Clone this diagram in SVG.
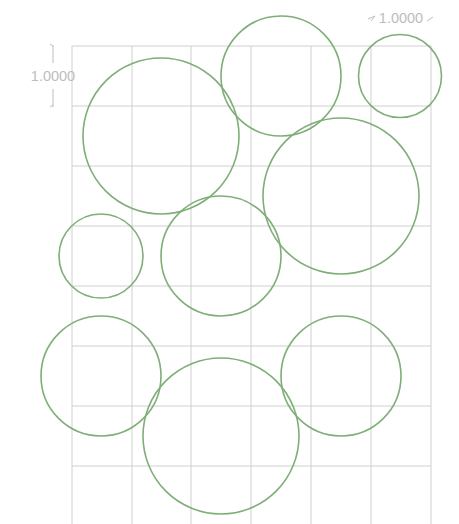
<svg xmlns="http://www.w3.org/2000/svg" width="459" height="524" viewBox="0 0 459 524">
<style>
.grid{stroke:#d0d0d0;stroke-width:1;fill:none}
.c{fill:none;stroke:#7fae78;stroke-width:1.6}
.dim{stroke:#bdbdbd;stroke-width:1;fill:none}
.t{font-family:"Liberation Sans",Arial,sans-serif;font-size:14.5px;fill:#bdbdbd}
</style>
<rect width="459" height="524" fill="#ffffff"/>
<g id="grid" class="grid">
<path d="M72 46V524M132 46V524M191 46V524M251 46V524M311 46V524M371 46V524M431 46V524"/>
<path d="M72 46H431M72 106H431M72 166H431M72 226H431M72 286H431M72 346H431M72 406H431M72 466H431"/>
</g>
<g id="dims">
<path class="dim" d="M53 45V63M53 89V107M50 44L53 46M50 107L53 105"/>
<text class="t" x="53" y="81" text-anchor="middle">1.0000</text>
<path class="dim" d="M368 19L375 16M375 16L371 21M427 21L433 17"/>
<text class="t" x="401" y="23" text-anchor="middle">1.0000</text>
</g>
<g id="c1"><circle class="c" cx="161" cy="136" r="78"/></g>
<g id="c2"><circle class="c" cx="281" cy="76" r="60"/></g>
<g id="c3"><circle class="c" cx="400" cy="76" r="41.5"/></g>
<g id="c4"><circle class="c" cx="341" cy="196" r="78"/></g>
<g id="c5"><circle class="c" cx="101" cy="256" r="42"/></g>
<g id="c6"><circle class="c" cx="221" cy="256" r="60"/></g>
<g id="c7"><circle class="c" cx="101" cy="376" r="60"/></g>
<g id="c8"><circle class="c" cx="221" cy="436" r="78"/></g>
<g id="c9"><circle class="c" cx="341" cy="376" r="60"/></g>
</svg>
